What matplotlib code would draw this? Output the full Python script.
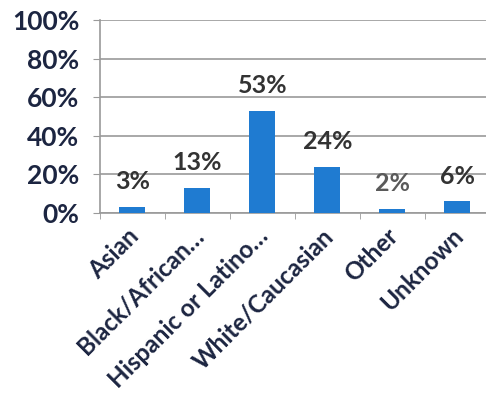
import matplotlib.pyplot as plt

# ethnicity breakdown, percent of total
categories = ["Asian", "Black/African\u2026", "Hispanic or Latino\u2026",
              "White/Caucasian", "Other", "Unknown"]
percents = [3, 13, 53, 24, 2, 6]
y_ticks = [0, 20, 40, 60, 80, 100]

bar_color = "#1f7bd1"
text_color = "#1c2541"
label_color = "#333333"

plt.rcParams["font.family"] = ["Lato", "DejaVu Sans"]

fig = plt.figure(figsize=(4.86, 3.94), dpi=100)
ax = fig.add_axes([100 / 486, 181 / 394, 386 / 486, 193 / 394])

xs = list(range(len(categories)))
bars = ax.bar(xs, percents, width=0.4, color=bar_color, zorder=3)

# value labels above each bar
for bar, val in zip(bars, percents):
    ax.annotate(f"{val}%", (bar.get_x() + bar.get_width() / 2, val),
                xytext=(0, 10), textcoords="offset points",
                ha="center", va="bottom", fontsize=18, fontweight="bold",
                color="#5a5a5a" if val == 2 else label_color)

ax.set_ylim(0, 100)
ax.set_xlim(-0.5, len(categories) - 0.56)
ax.set_yticks(y_ticks)
ax.set_yticklabels([f"{t}%" for t in y_ticks], fontsize=19,
                   fontweight="bold", color=text_color)
ax.yaxis.grid(True, color="#9a9a9a", linewidth=1.2, zorder=0)

# category ticks sit between bars; slanted labels hang just left of centre
ax.set_xticks([x - 0.5 for x in xs], minor=True)
ax.set_xticks([x - 0.09 for x in xs])
ax.set_xticklabels(categories, rotation=45, ha="right",
                   rotation_mode="anchor", fontsize=17.5,
                   fontweight="bold", color=text_color)
ax.tick_params(axis="x", which="major", length=0, pad=8)
ax.tick_params(axis="x", which="minor", length=4, color="#9a9a9a")
ax.tick_params(axis="y", length=5, color="#9a9a9a", pad=10)

for side in ["top", "right"]:
    ax.spines[side].set_visible(False)
for side in ["left", "bottom"]:
    ax.spines[side].set_color("#9a9a9a")
    ax.spines[side].set_linewidth(1.2)

plt.savefig("out.png", dpi=100)
